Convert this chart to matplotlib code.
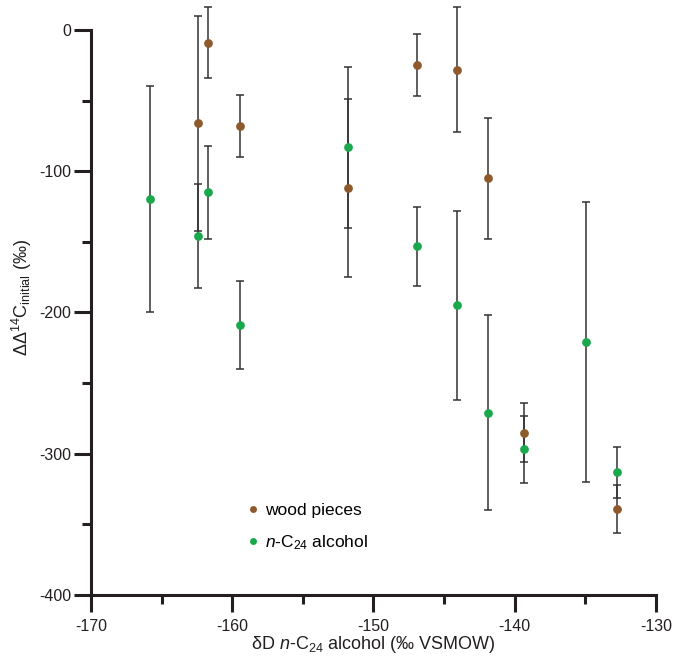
import matplotlib
matplotlib.use('Agg')
import matplotlib.pyplot as plt
from matplotlib.lines import Line2D
from matplotlib.ticker import MultipleLocator

plt.rcParams['font.family'] = ['Liberation Sans', 'DejaVu Sans']
plt.rcParams['mathtext.fontset'] = 'custom'
plt.rcParams['mathtext.rm'] = 'Liberation Sans'
plt.rcParams['mathtext.it'] = 'Liberation Sans:italic'
plt.rcParams['axes.unicode_minus'] = False

# wood pieces: dD, DD14C and error
wood_x = [-162.45, -161.7, -159.45, -151.8, -146.94, -144.06, -141.9, -139.38, -132.77]
wood_y = [-66, -9, -68, -112, -25, -28, -105, -285, -339]
wood_err = [76, 25, 22, 63, 22, 44, 43, 21, 17]

# n-C24 alcohol
alc_x = [-165.8, -162.45, -161.7, -159.45, -151.8, -146.94, -144.06, -141.9, -139.38, -134.97, -132.77]
alc_y = [-120, -146, -115, -209, -83, -153, -195, -271, -297, -221, -313]
alc_err = [80, 37, 33, 31, 57, 28, 67, 69, 24, 99, 18]

brown = '#8e5a2b'
green = '#1aa84c'
ink = '#231f20'

fig = plt.figure(figsize=(6.8, 6.63), dpi=100)
ax = fig.add_axes([0.1338, 0.1026, 0.8309, 0.8522])

for xs, ys, es in [(wood_x, wood_y, wood_err), (alc_x, alc_y, alc_err)]:
    ax.errorbar(xs, ys, yerr=es, fmt='none', ecolor='#333333', elinewidth=1.1,
                capsize=3.2, capthick=1.1, clip_on=False, zorder=2)
ax.plot(wood_x, wood_y, 'o', color=brown, ms=6.3, mew=0, clip_on=False, zorder=3)
ax.plot(alc_x, alc_y, 'o', color=green, ms=6.3, mew=0, clip_on=False, zorder=3)

ax.set_xlim(-170, -130)
ax.set_ylim(-400, 0)
ax.xaxis.set_major_locator(MultipleLocator(10))
ax.xaxis.set_minor_locator(MultipleLocator(5))
ax.yaxis.set_major_locator(MultipleLocator(100))
ax.yaxis.set_minor_locator(MultipleLocator(50))

for s in ['top', 'right']:
    ax.spines[s].set_visible(False)
for s in ['left', 'bottom']:
    ax.spines[s].set_linewidth(2.2)
    ax.spines[s].set_color(ink)

ax.tick_params(which='major', length=12, width=2.2, color=ink, labelsize=11.5,
               labelcolor=ink, pad=2)
ax.tick_params(which='minor', length=6.5, width=2.2, color=ink)
ax.tick_params(axis='x', which='major', pad=5)

ax.set_xlabel(r'δD $n$-C$_{24}$ alcohol (‰ VSMOW)', fontsize=13,
              color=ink, labelpad=0)
ax.set_ylabel(r'ΔΔ$^{14}$C$_{\mathrm{initial}}$ (‰)', fontsize=13, color=ink)
ax.yaxis.set_label_coords(-0.1, 0.527)

handles = [Line2D([], [], ls='none', marker='o', color=brown, ms=5, mew=0),
           Line2D([], [], ls='none', marker='o', color=green, ms=5, mew=0)]
ax.legend(handles, ['wood pieces', r'$n$-C$_{24}$ alcohol'], frameon=False,
          fontsize=12.5, loc='upper left', bbox_to_anchor=(0.253, 0.178),
          handletextpad=0.1, handlelength=1.2, labelspacing=0.85, borderpad=0)

fig.savefig('out.png', dpi=100)
